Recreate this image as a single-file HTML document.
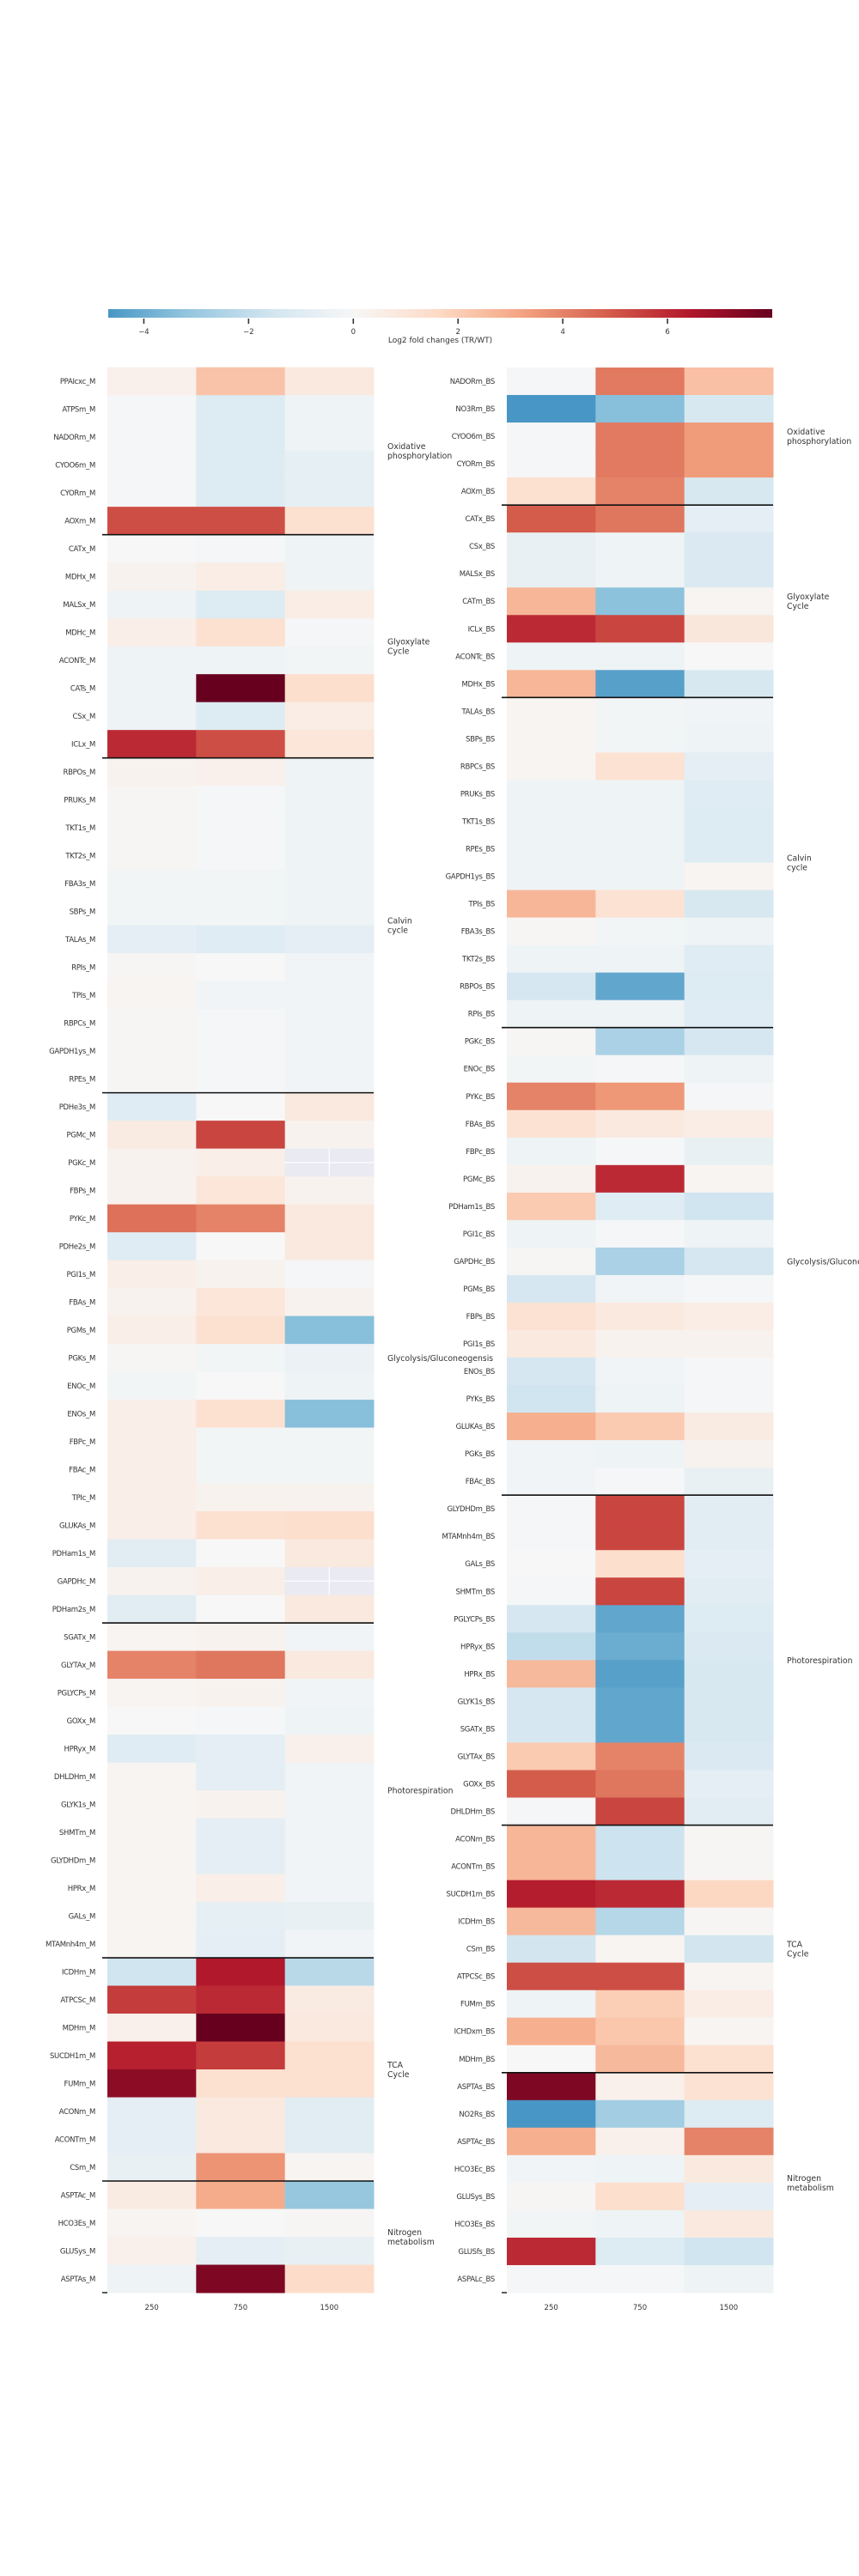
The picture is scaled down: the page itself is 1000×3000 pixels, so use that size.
<!DOCTYPE html>
<html><head><meta charset="utf-8"><title>Log2 fold change heatmaps</title>
<style>
html,body{margin:0;padding:0;background:#fff;}
svg{display:block;font-family:"DejaVu Sans","Liberation Sans",sans-serif;}
</style></head>
<body>
<svg id="chart" width="1000" height="3000" viewBox="0 0 1000 3000" xmlns="http://www.w3.org/2000/svg"></svg>
<script>
// ---------- data ----------
const colLabels = ["250", "750", "1500"];
const cbTicks = [-4, -2, 0, 2, 4, 6];
const mLabels = ["PPAIcxc_M","ATPSm_M","NADORm_M","CYOO6m_M","CYORm_M","AOXm_M","CATx_M","MDHx_M","MALSx_M","MDHc_M","ACONTc_M","CATs_M","CSx_M","ICLx_M","RBPOs_M","PRUKs_M","TKT1s_M","TKT2s_M","FBA3s_M","SBPs_M","TALAs_M","RPIs_M","TPIs_M","RBPCs_M","GAPDH1ys_M","RPEs_M","PDHe3s_M","PGMc_M","PGKc_M","FBPs_M","PYKc_M","PDHe2s_M","PGI1s_M","FBAs_M","PGMs_M","PGKs_M","ENOc_M","ENOs_M","FBPc_M","FBAc_M","TPIc_M","GLUKAs_M","PDHam1s_M","GAPDHc_M","PDHam2s_M","SGATx_M","GLYTAx_M","PGLYCPs_M","GOXx_M","HPRyx_M","DHLDHm_M","GLYK1s_M","SHMTm_M","GLYDHDm_M","HPRx_M","GALs_M","MTAMnh4m_M","ICDHm_M","ATPCSc_M","MDHm_M","SUCDH1m_M","FUMm_M","ACONm_M","ACONTm_M","CSm_M","ASPTAc_M","HCO3Es_M","GLUSys_M","ASPTAs_M"];
const m250 = [0.4,-0.1,-0.1,-0.1,-0.1,5.2,0,0.3,-0.4,0.5,-0.4,-0.4,-0.4,6.0,0.3,0.1,0.1,0.1,-0.2,-0.2,-0.8,0.1,0.2,0.1,0.1,0.1,-1.0,0.7,0.3,0.3,4.4,-1.0,0.5,0.3,0.5,0.1,-0.2,0.5,0.5,0.5,0.5,0.5,-0.9,0.3,-0.9,0.2,4.0,0.2,0,-1.0,0.2,0.2,0.2,0.2,0.2,0.2,0.2,-1.6,5.6,0.4,6.2,7.2,-0.8,-0.8,-0.6,0.7,0.2,0.4,-0.4];
const m750 = [2.3,-1.1,-1.1,-1.1,-1.1,5.2,-0.1,0.6,-1.1,1.3,-0.4,8,-1.1,5.2,0.4,-0.1,-0.1,-0.1,-0.2,-0.2,-1.0,0,-0.3,-0.1,-0.1,-0.1,0,5.4,0.5,1.0,4.0,0,0.3,1.0,1.3,-0.2,0,1.3,-0.2,-0.2,0.3,1.3,0,0.5,0,0.3,4.3,0.3,-0.1,-0.8,-0.8,0.3,-0.8,-0.8,0.5,-0.7,-0.8,6.4,6.0,8,5.6,1.3,0.8,0.8,3.6,3.0,0,-0.8,7.5];
const m1500 = [0.8,-0.4,-0.4,-0.7,-0.7,1.3,-0.4,-0.4,0.6,-0.1,-0.2,1.4,0.6,1.0,-0.4,-0.4,-0.4,-0.4,-0.4,-0.4,-0.8,-0.3,-0.3,-0.3,-0.3,-0.3,0.8,0.3,null,0.3,0.8,0.8,-0.1,0.3,-3.4,-0.5,-0.4,-3.4,-0.2,-0.2,0.3,1.4,0.8,null,0.8,-0.3,0.8,-0.3,-0.4,0.4,-0.3,-0.3,-0.3,-0.3,-0.3,-0.6,-0.3,-2.2,0.7,0.8,1.3,1.3,-0.9,-0.9,0.2,-3.1,0.1,-0.6,1.5];
const bsLabels = ["NADORm_BS","NO3Rm_BS","CYOO6m_BS","CYORm_BS","AOXm_BS","CATx_BS","CSx_BS","MALSx_BS","CATm_BS","ICLx_BS","ACONTc_BS","MDHx_BS","TALAs_BS","SBPs_BS","RBPCs_BS","PRUKs_BS","TKT1s_BS","RPEs_BS","GAPDH1ys_BS","TPIs_BS","FBA3s_BS","TKT2s_BS","RBPOs_BS","RPIs_BS","PGKc_BS","ENOc_BS","PYKc_BS","FBAs_BS","FBPc_BS","PGMc_BS","PDHam1s_BS","PGI1c_BS","GAPDHc_BS","PGMs_BS","FBPs_BS","PGI1s_BS","ENOs_BS","PYKs_BS","GLUKAs_BS","PGKs_BS","FBAc_BS","GLYDHDm_BS","MTAMnh4m_BS","GALs_BS","SHMTm_BS","PGLYCPs_BS","HPRyx_BS","HPRx_BS","GLYK1s_BS","SGATx_BS","GLYTAx_BS","GOXx_BS","DHLDHm_BS","ACONm_BS","ACONTm_BS","SUCDH1m_BS","ICDHm_BS","CSm_BS","ATPCSc_BS","FUMm_BS","ICHDxm_BS","MDHm_BS","ASPTAs_BS","NO2Rs_BS","ASPTAc_BS","HCO3Ec_BS","GLUSys_BS","HCO3Es_BS","GLUSfs_BS","ASPALc_BS"];
const bs250 = [-0.1,-4.7,-0.1,-0.1,1.3,4.9,-0.6,-0.6,2.7,6.0,-0.4,2.7,0.2,0.2,0.2,-0.4,-0.4,-0.4,-0.4,2.7,0.1,-0.4,-1.4,-0.4,0.1,-0.2,4.0,1.2,-0.4,0.3,2.1,-0.4,0.1,-1.4,1.2,0.8,-1.4,-1.6,2.9,-0.3,-0.3,-0.1,-0.1,0,-0.1,-1.4,-2.0,2.6,-1.4,-1.4,2.1,4.9,-0.1,2.7,2.7,6.3,2.6,-1.5,5.2,-0.4,2.9,0,7.5,-4.7,2.9,-0.3,0.1,-0.2,6.0,-0.1];
const bs750 = [4.2,-3.4,4.2,4.2,4.0,4.3,-0.4,-0.4,-3.3,5.4,-0.4,-4.4,-0.2,-0.2,1.2,-0.4,-0.4,-0.4,-0.4,1.2,-0.2,-0.4,-4.2,-0.4,-2.6,-0.1,3.5,0.8,-0.1,6.0,-1.0,-0.1,-2.6,-0.3,0.8,0.3,-0.3,-0.4,2.1,-0.4,-0.1,5.4,5.4,1.4,5.4,-4.2,-4.0,-4.4,-4.2,-4.2,4.0,4.3,5.4,-1.7,-1.7,6.0,-2.3,0.2,5.2,2.0,2.2,2.6,0.4,-2.8,0.4,-0.4,1.4,-0.4,-1.1,-0.1];
const bs1500 = [2.4,-1.3,3.4,3.4,-1.3,-0.8,-1.2,-1.2,0.2,0.9,0,-1.3,-0.3,-0.4,-0.8,-1.0,-1.1,-1.1,0.2,-1.3,-0.4,-1.0,-1.1,-1.0,-1.4,-0.4,-0.1,0.6,-0.6,0.2,-1.6,-0.4,-1.4,-0.1,0.6,0.3,-0.1,-0.1,0.7,0.3,-0.6,-0.9,-0.9,-0.8,-0.9,-1.1,-1.2,-1.3,-1.3,-1.3,-1.2,-0.8,-0.9,0.1,0.1,1.7,0.1,-1.5,0.2,0.6,0.2,1.3,1.2,-1.1,4.0,0.8,-0.8,0.8,-1.6,-0.4];
const mGroupNames = ["Oxidative\nphosphorylation","Glyoxylate\nCycle","Calvin\ncycle","Glycolysis/Gluconeogensis","Photorespiration","TCA\nCycle","Nitrogen\nmetabolism"];
const mGroupSizes = [6, 8, 12, 19, 12, 8, 4];
const bsGroupNames = ["Oxidative\nphosphorylation","Glyoxylate\nCycle","Calvin\ncycle","Glycolysis/Gluconeogensis","Photorespiration","TCA\nCycle","Nitrogen\nmetabolism"];
const bsGroupSizes = [5, 7, 12, 17, 12, 9, 8];

// ---------- scales ----------
const VMIN = -4.68, VMAX = 8;
const stops = ["#053061","#2166ac","#4393c3","#92c5de","#d1e5f0","#f7f7f7","#fddbc7","#f4a582","#d6604d","#b2182b","#67001f"];
function hex2rgb(h){return [parseInt(h.substr(1,2),16),parseInt(h.substr(3,2),16),parseInt(h.substr(5,2),16)];}
function cmap(t){
  t=Math.max(0,Math.min(1,t));
  const p=t*10, i=Math.min(9,Math.floor(p)), f=p-i;
  const a=hex2rgb(stops[i]), b=hex2rgb(stops[i+1]);
  return "rgb("+a.map((v,k)=>Math.round(v+(b[k]-v)*f)).join(",")+")";
}
function colorOf(v){return cmap(0.5 + v/(2*VMAX));}

const NS="http://www.w3.org/2000/svg";
const svg=document.getElementById("chart");
function mk(tag, attrs, parent){
  const e=document.createElementNS(NS,tag);
  for(const k in attrs) e.setAttribute(k, attrs[k]);
  (parent||svg).appendChild(e);
  return e;
}

// ---------- colorbar ----------
const cbX0=126, cbX1=899, cbY=360, cbH=10;
const cbScale = v => cbX0 + (v - VMIN)/(VMAX - VMIN)*(cbX1 - cbX0);
const defs=mk("defs",{});
const grad=mk("linearGradient",{id:"cbgrad",x1:"0",x2:"1",y1:"0",y2:"0"},defs);
for(let i=0;i<=40;i++){
  const v=VMIN+(VMAX-VMIN)*i/40;
  mk("stop",{offset:(i/40).toFixed(3),"stop-color":colorOf(v)},grad);
}
const cb=mk("rect",{x:cbX0,y:cbY,width:cbX1-cbX0,height:cbH,fill:"url(#cbgrad)"});


cbTicks.forEach(t=>{
  const x=cbScale(t);
  const tk=mk("line",{x1:x,x2:x,y1:cbY+11,y2:cbY+17,stroke:"#333","stroke-width":1.6});
  
  
  const tl=mk("text",{x:x,y:cbY+29,"font-size":"8.5","text-anchor":"middle",fill:"#333"});
  tl.textContent=(t<0?"\u2212":"")+Math.abs(t);
  
  
});
const cbt=mk("text",{x:(cbX0+cbX1)/2,y:cbY+39,"font-size":"9","text-anchor":"middle",fill:"#333"});
cbt.textContent="Log2 fold changes (TR/WT)";



// ---------- heatmap ----------
function drawHeatmap(cfg){
  const {labels, cols, x0, x1, y0, y1, labelX, catX, groupNames, groupSizes, prefix} = cfg;
  const n=labels.length, cw=(x1-x0)/3, rh=(y1-y0)/n;
  const g=mk("g",{});
  
  
  cols.forEach((vals,c)=>{
    vals.forEach((v,r)=>{
      const x=x0+c*cw, y=y0+r*rh;
      if(v===null){
        const na=mk("rect",{x:x,y:y,width:cw+0.5,height:rh+0.5,fill:"#eaeaf2"},g);
        
        
        const l1=mk("line",{x1:x+cw/2,x2:x+cw/2,y1:y,y2:y+rh,stroke:"#fff","stroke-width":1.2},g);
        
        
        const l2=mk("line",{x1:x,x2:x+cw,y1:y+rh/2,y2:y+rh/2,stroke:"#fff","stroke-width":1.2},g);
        
        
      } else {
        const rc=mk("rect",{x:x,y:y,width:cw+0.5,height:rh+0.5,fill:colorOf(v)},g);
        
        
      }
    });
  });
  labels.forEach((lab,r)=>{
    const t=mk("text",{x:labelX,y:y0+(r+0.5)*rh+3,"font-size":"8.5","text-anchor":"end",fill:"#333","letter-spacing":"-0.3"},g);
    t.textContent=lab;
    
    
  });
  colLabels.forEach((lab,c)=>{
    const t=mk("text",{x:x0+(c+0.5)*cw,y:y1+20,"font-size":"8.5","text-anchor":"middle",fill:"#333"},g);
    t.textContent=lab;
    
    
  });
  const bt=mk("line",{x1:x0-6,x2:x0,y1:y1,y2:y1,stroke:"#222","stroke-width":1.5},g);
  
  
  let start=0;
  groupSizes.forEach((sz,gi)=>{
    const end=start+sz;
    if(gi<groupSizes.length-1){
      const ly=y0+end*rh;
      const sl=mk("line",{x1:x0-6,x2:x1,y1:ly,y2:ly,stroke:"#111","stroke-width":1.6},g);
      
      
    }
    const mid=y0+(start+end)/2*rh;
    const lines=groupNames[gi].split("\n");
    const t=mk("text",{x:catX,y:mid-(lines.length-1)*5.5+3.5,"font-size":"9.3",fill:"#333"},g);
    lines.forEach((ln,li)=>{
      const ts=mk("tspan",{x:catX,dy:li===0?0:11},t);
      ts.textContent=ln;
    });
    
    
    start=end;
  });
}

drawHeatmap({labels:mLabels, cols:[m250,m750,m1500], x0:125, x1:435, y0:427.7, y1:2670, labelX:111, catX:451, groupNames:mGroupNames, groupSizes:mGroupSizes, prefix:"mesophyll"});
drawHeatmap({labels:bsLabels, cols:[bs250,bs750,bs1500], x0:590, x1:900, y0:428, y1:2670, labelX:576, catX:916, groupNames:bsGroupNames, groupSizes:bsGroupSizes, prefix:"bundle-sheath"});
</script>
</body></html>
